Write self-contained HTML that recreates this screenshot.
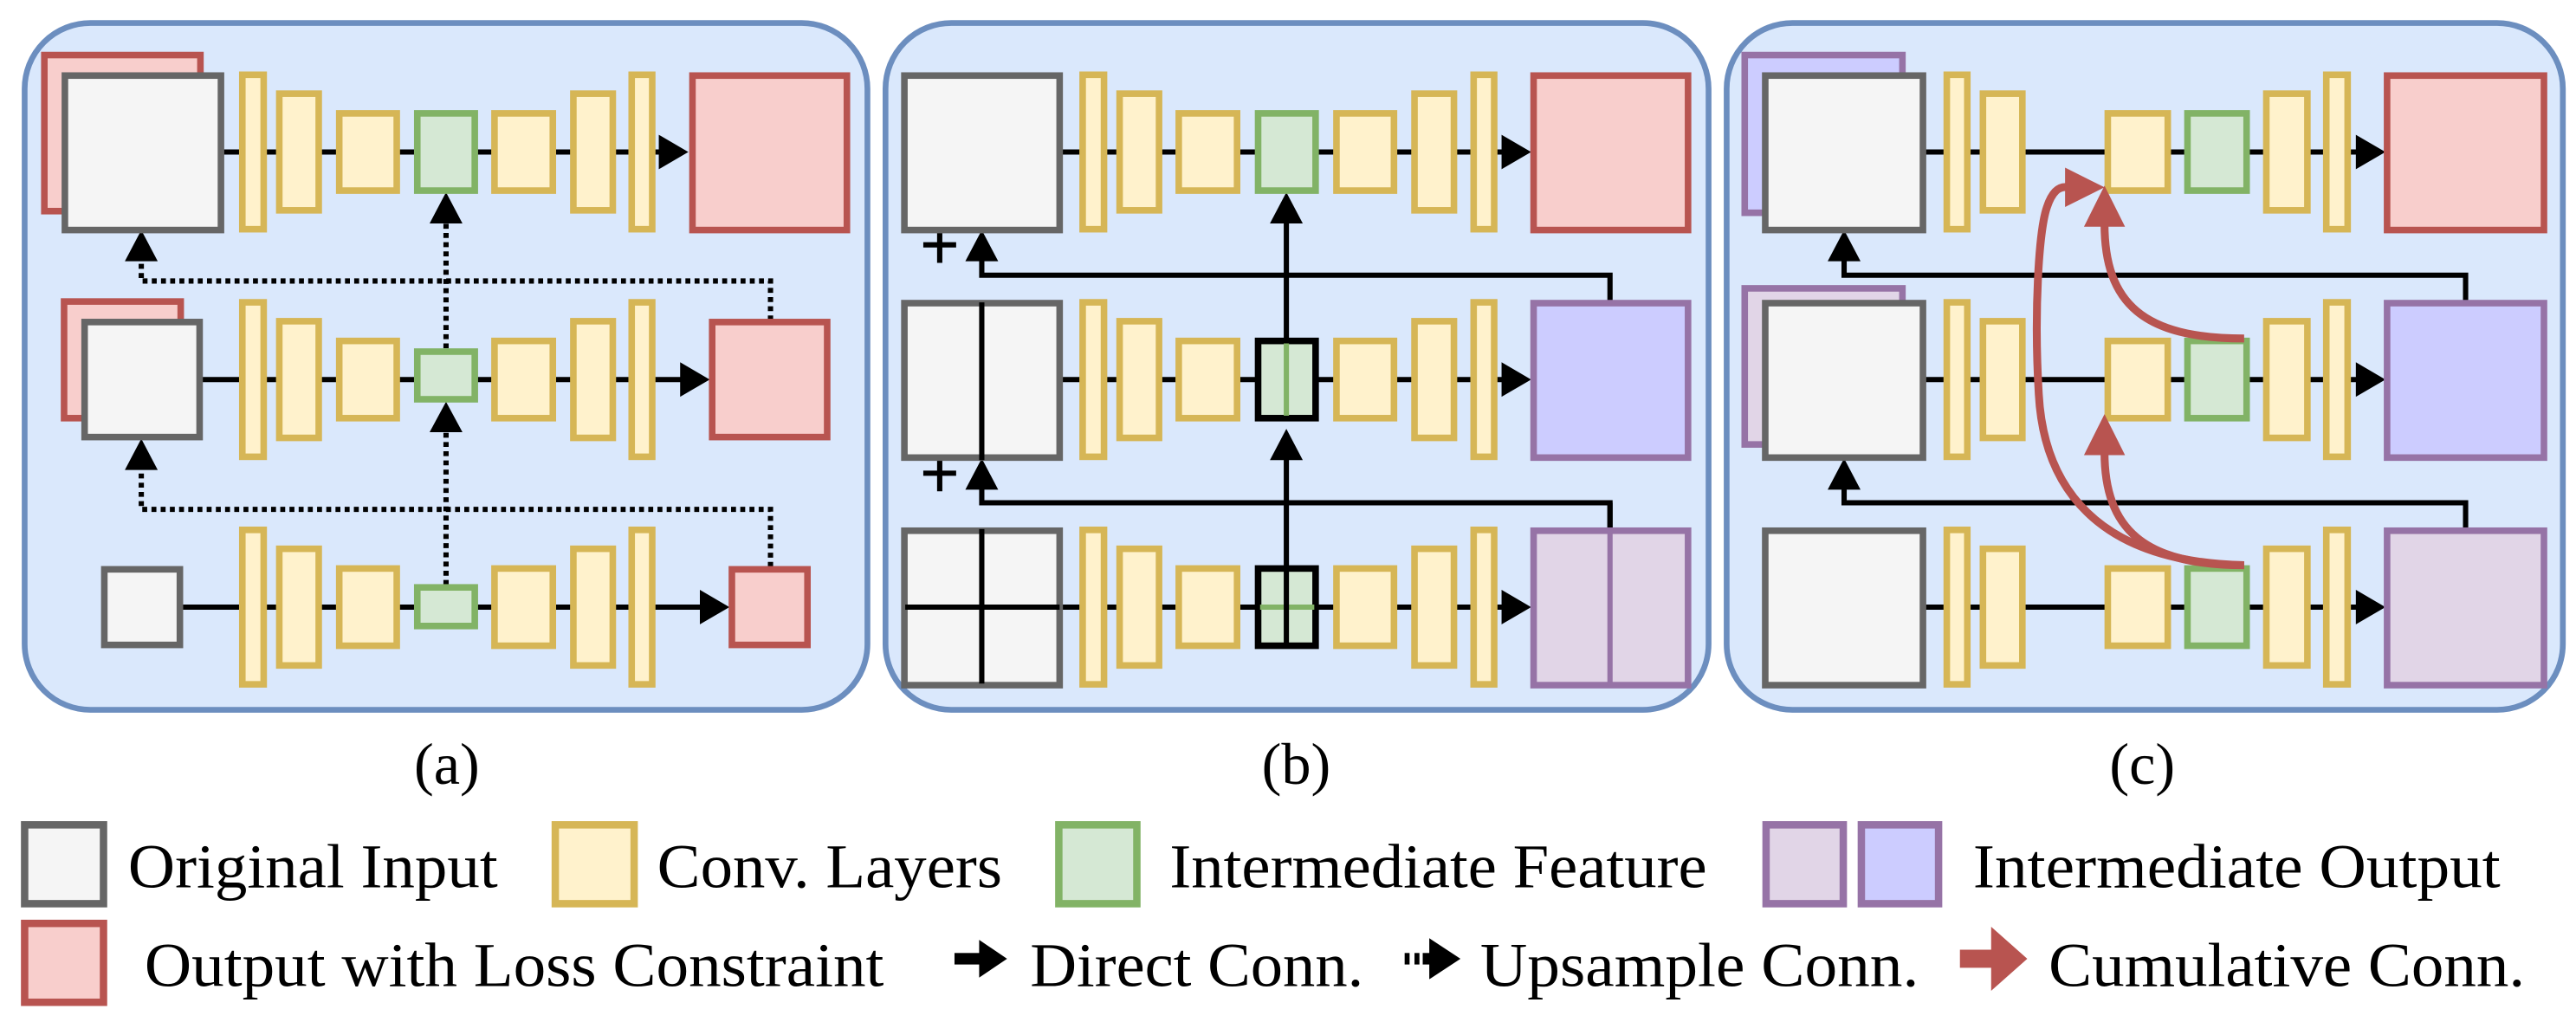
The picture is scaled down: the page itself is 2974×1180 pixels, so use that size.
<!DOCTYPE html>
<html><head><meta charset="utf-8"><style>html,body{margin:0;padding:0;background:#fff}svg{display:block}
.t{font-family:"Liberation Serif","Times New Roman","DejaVu Serif",serif}</style></head>
<body>
<svg xmlns="http://www.w3.org/2000/svg" xmlns:xlink="http://www.w3.org/1999/xlink" width="2974" height="1180" viewBox="0 0 1568 622" preserveAspectRatio="none">
<defs>
<g id="LA" fill="#fff2cc" stroke="#d6b656" stroke-width="4">
<rect x="147.5" y="-47" width="13" height="94"/>
<rect x="170" y="-35.5" width="24" height="71"/>
<rect x="206.5" y="-23.5" width="35" height="47"/>
<rect x="301" y="-23.5" width="35.5" height="47"/>
<rect x="349" y="-35.5" width="24" height="71"/>
<rect x="384.5" y="-47" width="12.5" height="94"/>
</g>
<g id="LB" fill="#fff2cc" stroke="#d6b656" stroke-width="4">
<rect x="659" y="-47" width="13" height="94"/>
<rect x="681.5" y="-35.5" width="24" height="71"/>
<rect x="717.5" y="-23.5" width="35.5" height="47"/>
<rect x="813.5" y="-23.5" width="35" height="47"/>
<rect x="861" y="-35.5" width="24" height="71"/>
<rect x="897" y="-47" width="12.5" height="94"/>
</g>
<g id="LC" fill="#fff2cc" stroke="#d6b656" stroke-width="4">
<rect x="1185" y="-47" width="12.5" height="94"/>
<rect x="1207" y="-35.5" width="24" height="71"/>
<rect x="1283" y="-23.5" width="36.5" height="47"/>
<rect x="1379.5" y="-35.5" width="25" height="71"/>
<rect x="1416" y="-47" width="13" height="94"/>
</g>
</defs>

<rect x="15" y="14" width="513" height="418" rx="40" fill="#dae8fc" stroke="#6c8ebf" stroke-width="3.5"/>
<rect x="539" y="14" width="501" height="418" rx="40" fill="#dae8fc" stroke="#6c8ebf" stroke-width="3.5"/>
<rect x="1051" y="14" width="509" height="418" rx="40" fill="#dae8fc" stroke="#6c8ebf" stroke-width="3.5"/>

<!-- PANEL A -->
<g stroke="#000" stroke-width="3.2" fill="none">
<line x1="136" y1="92.5" x2="405" y2="92.5"/>
<line x1="122" y1="231" x2="418" y2="231"/>
<line x1="111" y1="369.5" x2="430" y2="369.5"/>
</g>
<g fill="#000">
<polygon points="401,82 419,92.5 401,103"/>
<polygon points="414,220.5 432,231 414,241.5"/>
<polygon points="426,359 444,369.5 426,380"/>
</g>
<g stroke="#000" stroke-width="3.2" fill="none" stroke-dasharray="3 2.6">
<polyline points="469,195 469,171 86,171 86,156"/>
<polyline points="469,345 469,310 86,310 86,284"/>
<line x1="271.5" y1="356" x2="271.5" y2="262"/>
<line x1="271.5" y1="212" x2="271.5" y2="135"/>
</g>
<g fill="#000">
<polygon points="76,159 86,140 96,159"/>
<polygon points="76,286 86,267 96,286"/>
<polygon points="261.5,263 271.5,244.5 281.5,263"/>
<polygon points="261.5,136 271.5,117 281.5,136"/>
</g>
<rect x="27" y="33.5" width="95" height="95" fill="#f8cecc" stroke="#b85450" stroke-width="4"/>
<rect x="39.5" y="46" width="95" height="94" fill="#f5f5f5" stroke="#666" stroke-width="4"/>
<rect x="421.5" y="46" width="94" height="94" fill="#f8cecc" stroke="#b85450" stroke-width="4"/>
<rect x="39" y="183.5" width="71" height="71" fill="#f8cecc" stroke="#b85450" stroke-width="4"/>
<rect x="51.5" y="196" width="70" height="70" fill="#f5f5f5" stroke="#666" stroke-width="4"/>
<rect x="433.5" y="196" width="70" height="70" fill="#f8cecc" stroke="#b85450" stroke-width="4"/>
<rect x="63.5" y="346.5" width="46" height="46" fill="#f5f5f5" stroke="#666" stroke-width="4"/>
<rect x="445.5" y="346.5" width="46" height="46" fill="#f8cecc" stroke="#b85450" stroke-width="4"/>
<use xlink:href="#LA" transform="translate(0,92.5)"/>
<use xlink:href="#LA" transform="translate(0,231)"/>
<use xlink:href="#LA" transform="translate(0,369.5)"/>
<g fill="#d5e8d4" stroke="#82b366" stroke-width="4">
<rect x="254" y="69" width="35" height="47"/>
<rect x="254" y="214" width="35" height="29"/>
<rect x="254" y="357.5" width="35" height="23.5"/>
</g>

<!-- PANEL B -->
<g stroke="#000" stroke-width="3.2" fill="none">
<line x1="646" y1="92.5" x2="918" y2="92.5"/>
<line x1="646" y1="231" x2="918" y2="231"/>
<line x1="646" y1="369.5" x2="918" y2="369.5"/>
<polyline points="980,183 980,167.5 597.6,167.5 597.6,157"/>
<polyline points="980,321 980,306 597.6,306 597.6,295"/>
<line x1="783" y1="206" x2="783" y2="133"/>
<line x1="783" y1="393" x2="783" y2="275"/>
<line x1="562" y1="149" x2="582" y2="149"/><line x1="572" y1="138" x2="572" y2="160"/>
<line x1="562" y1="288" x2="582" y2="288"/><line x1="572" y1="277" x2="572" y2="299"/>
</g>
<g fill="#000">
<polygon points="914,82 932,92.5 914,103"/>
<polygon points="914,220.5 932,231 914,241.5"/>
<polygon points="914,359 932,369.5 914,380"/>
<polygon points="587.6,159 597.6,140 607.6,159"/>
<polygon points="587.6,298 597.6,279 607.6,298"/>
<polygon points="773,136 783,117 793,136"/>
<polygon points="773,280 783,261 793,280"/>
</g>
<rect x="550.5" y="46" width="94.5" height="94" fill="#f5f5f5" stroke="#666" stroke-width="4"/>
<rect x="550.5" y="184.5" width="94.5" height="94" fill="#f5f5f5" stroke="#666" stroke-width="4"/>
<rect x="550.5" y="323" width="94.5" height="94" fill="#f5f5f5" stroke="#666" stroke-width="4"/>
<g stroke="#000" stroke-width="3.2">
<line x1="597.6" y1="184" x2="597.6" y2="280"/>
<line x1="597.6" y1="322" x2="597.6" y2="416"/>
<line x1="551" y1="369.5" x2="645" y2="369.5"/>
</g>
<rect x="933.5" y="46" width="94" height="94" fill="#f8cecc" stroke="#b85450" stroke-width="4"/>
<rect x="933.5" y="184.5" width="94" height="94" fill="#ccccff" stroke="#9673a6" stroke-width="4"/>
<rect x="933.5" y="323" width="94" height="94" fill="#e1d5e7" stroke="#9673a6" stroke-width="4"/>
<line x1="980" y1="323" x2="980" y2="417" stroke="#9673a6" stroke-width="3.2"/>
<line x1="980" y1="321" x2="980" y2="306" stroke="#000" stroke-width="3.2"/>
<use xlink:href="#LB" transform="translate(0,92.5)"/>
<use xlink:href="#LB" transform="translate(0,231)"/>
<use xlink:href="#LB" transform="translate(0,369.5)"/>
<rect x="765.8" y="69" width="35" height="47" fill="#d5e8d4" stroke="#82b366" stroke-width="4"/>
<rect x="765.8" y="207.5" width="35" height="47" fill="#d5e8d4" stroke="#000" stroke-width="4"/>
<line x1="783" y1="209" x2="783" y2="253" stroke="#82b366" stroke-width="3.2"/>
<rect x="765.8" y="346" width="35" height="47" fill="#d5e8d4" stroke="#000" stroke-width="4"/>
<line x1="767" y1="369.5" x2="800" y2="369.5" stroke="#82b366" stroke-width="3.2"/>
<line x1="783" y1="346" x2="783" y2="393" stroke="#000" stroke-width="3.2"/>

<!-- PANEL C -->
<g stroke="#000" stroke-width="3.2" fill="none">
<line x1="1172" y1="92.5" x2="1438" y2="92.5"/>
<line x1="1172" y1="231" x2="1438" y2="231"/>
<line x1="1172" y1="369.5" x2="1438" y2="369.5"/>
<polyline points="1500.8,183 1500.8,167.5 1122.5,167.5 1122.5,157"/>
<polyline points="1500.8,321 1500.8,306 1122.5,306 1122.5,295"/>
</g>
<g fill="#000">
<polygon points="1434,82 1452,92.5 1434,103"/>
<polygon points="1434,220.5 1452,231 1434,241.5"/>
<polygon points="1434,359 1452,369.5 1434,380"/>
<polygon points="1112.5,159 1122.5,140 1132.5,159"/>
<polygon points="1112.5,298 1122.5,279 1132.5,298"/>
</g>
<rect x="1062" y="33.5" width="96" height="96" fill="#ccccff" stroke="#9673a6" stroke-width="4"/>
<rect x="1074.5" y="46" width="96" height="94" fill="#f5f5f5" stroke="#666" stroke-width="4"/>
<rect x="1062" y="175.5" width="96" height="95" fill="#e1d5e7" stroke="#9673a6" stroke-width="4"/>
<rect x="1074.5" y="184.5" width="96" height="94" fill="#f5f5f5" stroke="#666" stroke-width="4"/>
<rect x="1074.5" y="323" width="96" height="94" fill="#f5f5f5" stroke="#666" stroke-width="4"/>
<rect x="1453" y="46" width="95.5" height="94" fill="#f8cecc" stroke="#b85450" stroke-width="4"/>
<rect x="1453" y="184.5" width="95.5" height="94" fill="#ccccff" stroke="#9673a6" stroke-width="4"/>
<rect x="1453" y="323" width="95.5" height="94" fill="#e1d5e7" stroke="#9673a6" stroke-width="4"/>
<use xlink:href="#LC" transform="translate(0,92.5)"/>
<use xlink:href="#LC" transform="translate(0,231)"/>
<use xlink:href="#LC" transform="translate(0,369.5)"/>
<g fill="#d5e8d4" stroke="#82b366" stroke-width="4">
<rect x="1331.5" y="69" width="36" height="47"/>
<rect x="1331.5" y="207.5" width="36" height="47"/>
<rect x="1331.5" y="346" width="36" height="47"/>
</g>
<g stroke="#b85450" stroke-width="4.8" fill="none">
<path d="M1366,206 C1305,206 1281,185 1281,136"/>
<path d="M1366,344 C1305,344 1281,322 1281,275"/>
<path d="M1366,344 C1275,342 1244,295 1241,240 C1238,190 1241,140 1246,126 C1249,117 1253,113 1259,114"/>
</g>
<g fill="#b85450">
<polygon points="1268.5,138 1281,113 1293.5,138"/>
<polygon points="1268.5,277 1281,252 1293.5,277"/>
<polygon points="1257,102 1281,114 1257,126"/>
</g>

<g class="t" font-size="36" fill="#000" text-anchor="middle">
<text x="272" y="477">(a)</text>
<text x="789" y="477">(b)</text>
<text x="1304" y="477">(c)</text>
</g>

<g stroke-width="4.5">
<rect x="15" y="502" width="48" height="48" fill="#f5f5f5" stroke="#666"/>
<rect x="338" y="502" width="48" height="48" fill="#fff2cc" stroke="#d6b656"/>
<rect x="644.5" y="502" width="47.5" height="48" fill="#d5e8d4" stroke="#82b366"/>
<rect x="1075" y="502" width="47" height="48" fill="#e1d5e7" stroke="#9673a6"/>
<rect x="1133" y="502" width="47" height="48" fill="#ccccff" stroke="#9673a6"/>
<rect x="15" y="562" width="48" height="48" fill="#f8cecc" stroke="#b85450"/>
</g>
<g class="t" font-size="38" fill="#000">
<text x="78" y="540" textLength="225" lengthAdjust="spacingAndGlyphs">Original Input</text>
<text x="400" y="540" textLength="210" lengthAdjust="spacingAndGlyphs">Conv. Layers</text>
<text x="712" y="540" textLength="327" lengthAdjust="spacingAndGlyphs">Intermediate Feature</text>
<text x="1201" y="540" textLength="321" lengthAdjust="spacingAndGlyphs">Intermediate Output</text>
<text x="88" y="600" textLength="450" lengthAdjust="spacingAndGlyphs">Output with Loss Constraint</text>
<text x="627" y="600" textLength="203" lengthAdjust="spacingAndGlyphs">Direct Conn.</text>
<text x="901" y="600" textLength="267" lengthAdjust="spacingAndGlyphs">Upsample Conn.</text>
<text x="1247" y="600" textLength="290" lengthAdjust="spacingAndGlyphs">Cumulative Conn.</text>
</g>
<g>
<rect x="581" y="580" width="18" height="7" fill="#000"/>
<polygon points="596,572 613,583.5 596,595" fill="#000"/>
<rect x="855" y="580" width="3" height="7" fill="#000"/>
<rect x="861" y="580" width="3" height="7" fill="#000"/>
<rect x="866" y="580" width="6" height="7" fill="#000"/>
<polygon points="870,571 889,583.5 870,596" fill="#000"/>
<rect x="1193" y="578" width="22" height="11" fill="#b85450"/>
<polygon points="1212,564 1234,583.5 1212,603" fill="#b85450"/>
</g>
</svg>
</body></html>
